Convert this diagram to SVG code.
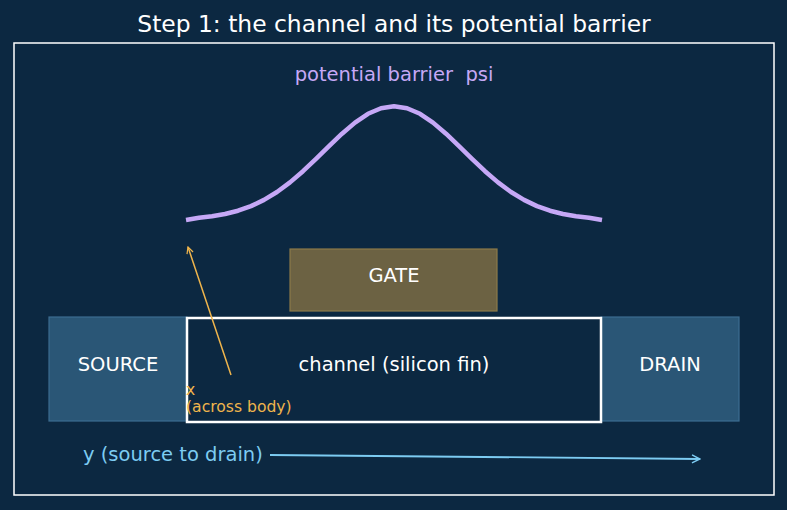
<svg xmlns="http://www.w3.org/2000/svg" width="787" height="510" viewBox="0 0 787 510">
<style>
text{font-family:"DejaVu Sans",sans-serif;white-space:pre}
.lbl{fill:#ffffff;font-size:19.5px;text-anchor:middle}
.term{fill:#2a5676;stroke:#3d6d91;stroke-width:1.2}
.ax{fill:#f0b54c;font-size:15.6px}
</style>
<defs>
<marker id="ao" viewBox="0 0 10 10" refX="9" refY="5" markerWidth="8" markerHeight="8" orient="auto" markerUnits="userSpaceOnUse"><path d="M1,1 L9,5 L1,9" fill="none" stroke="#f0b54c" stroke-width="1.5"/></marker>
<marker id="ab" viewBox="0 0 10 10" refX="9" refY="5" markerWidth="10" markerHeight="10" orient="auto" markerUnits="userSpaceOnUse"><path d="M1,1 L9,5 L1,9" fill="none" stroke="#7dccf2" stroke-width="1.5"/></marker>
</defs>
<rect width="787" height="510" fill="#0c2841"/>
<text x="394" y="32" class="lbl" style="font-size:23.4px">Step 1: the channel and its potential barrier</text>
<rect x="14" y="43" width="760" height="452" fill="none" stroke="#ffffff" stroke-width="1.5"/>
<g id="barrier">
<text x="394" y="81" xml:space="preserve" style="fill:#c6a8f6;font-size:19.5px;text-anchor:middle">potential barrier  psi</text>
<path d="M186,220 L199,217.8 L212,216.3 L225,214 L238,210.7 L251,206.1 L264,199.9 L277,192 L290,182.4 L303,171.2 L316,158.9 L329,146.1 L342,133.7 L355,122.6 L368,113.8 L381,108.2 L394,106.2 L407,108.2 L420,113.8 L433,122.6 L446,133.7 L459,146.1 L472,158.9 L485,171.2 L498,182.4 L511,192 L524,199.9 L537,206.1 L550,210.7 L563,214 L576,216.3 L589,217.8 L602,220" fill="none" stroke="#c6a8f6" stroke-width="4.5" stroke-linejoin="round" stroke-linecap="butt"/>
</g>
<g id="gate">
<rect x="290" y="249" width="207" height="62" fill="#6c6243" stroke="#8c7a4a" stroke-width="1.2"/>
<text x="394" y="282" class="lbl">GATE</text>
</g>
<g id="source">
<rect x="49" y="317" width="138" height="104" class="term"/>
<text x="118" y="371" class="lbl">SOURCE</text>
</g>
<g id="drain">
<rect x="601" y="317" width="138" height="104" class="term"/>
<text x="670" y="371" class="lbl">DRAIN</text>
</g>
<g id="channel">
<rect x="187" y="318" width="414" height="104" fill="#0c2841" stroke="#ffffff" stroke-width="2.5"/>
<text x="394" y="371" class="lbl">channel (silicon fin)</text>
</g>
<g id="connectors">
<line x1="231" y1="375" x2="188" y2="247" stroke="#f0b54c" stroke-width="1.5" marker-end="url(#ao)"/>
<line x1="270" y1="455" x2="700" y2="459" stroke="#7dccf2" stroke-width="1.8" marker-end="url(#ab)"/>
</g>
<g id="axis-labels">
<text x="186" y="395" class="ax">x</text>
<text x="186" y="412" class="ax">(across body)</text>
<text x="83" y="461" style="fill:#7dccf2;font-size:19.5px">y (source to drain)</text>
</g>
</svg>
